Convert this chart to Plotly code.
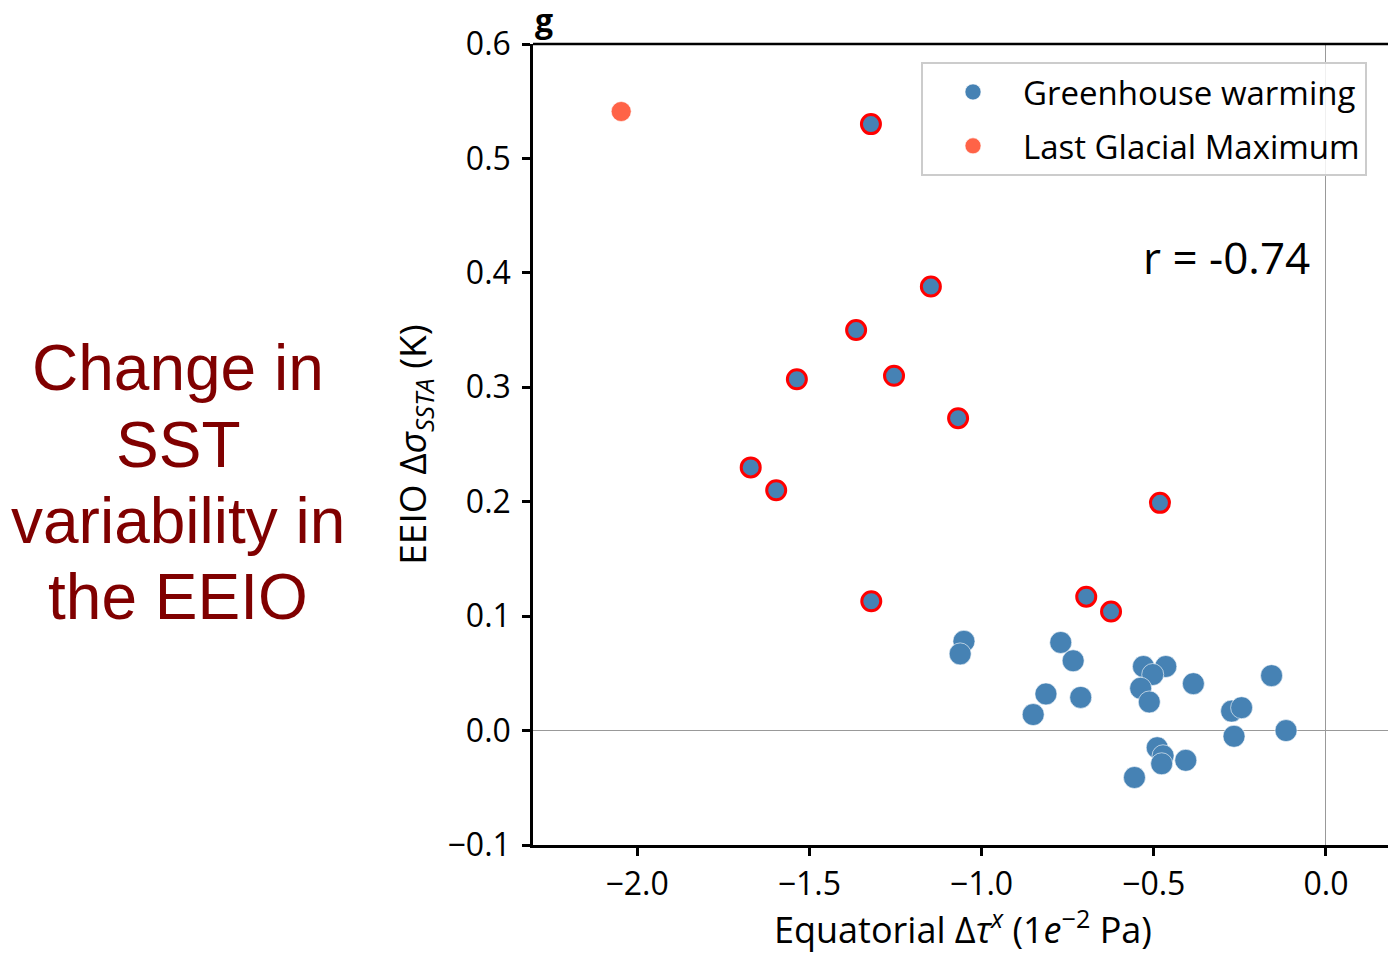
import plotly.graph_objects as go

# Greenhouse warming models (plain markers)
gw_x = [-1.051, -1.062, -0.770, -0.734, -0.813, -0.850, -0.712, -0.530, -0.465, -0.503,
        -0.538, -0.513, -0.385, -0.158, -0.274, -0.245, -0.267, -0.116, -0.490, -0.473,
        -0.477, -0.407, -0.556]
gw_y = [0.078, 0.067, 0.077, 0.061, 0.032, 0.014, 0.029, 0.056, 0.056, 0.049,
        0.037, 0.025, 0.041, 0.048, 0.017, 0.020, -0.005, 0.000, -0.015, -0.022,
        -0.029, -0.026, -0.041]

# Greenhouse warming models highlighted with red outline
gw_sig_x = [-1.321, -1.147, -1.364, -1.536, -1.254, -1.068, -1.670, -1.596, -0.482,
            -1.320, -0.696, -0.624]
gw_sig_y = [0.530, 0.388, 0.350, 0.307, 0.310, 0.273, 0.230, 0.210, 0.199,
            0.113, 0.117, 0.104]

# Last Glacial Maximum
lgm_x = [-2.046]
lgm_y = [0.541]

x_ticks = [-2.0, -1.5, -1.0, -0.5, 0.0]
y_ticks = [-0.1, 0.0, 0.1, 0.2, 0.3, 0.4, 0.5, 0.6]

BLUE = "#4682B4"
ORANGE = "#FF6347"
FONT = "Open Sans"

fig = go.Figure()
fig.add_trace(go.Scatter(
    x=gw_x, y=gw_y, mode="markers", name="Greenhouse warming", legendgroup="gw",
    marker=dict(color=BLUE, size=22, line=dict(color="white", width=0.6)),
))
fig.add_trace(go.Scatter(
    x=gw_sig_x, y=gw_sig_y, mode="markers", name="Greenhouse warming (sig)",
    showlegend=False, legendgroup="gw",
    marker=dict(color=BLUE, size=19, line=dict(color="#FF0000", width=3)),
))
fig.add_trace(go.Scatter(
    x=lgm_x, y=lgm_y, mode="markers", name="Last Glacial Maximum", legendgroup="lgm",
    marker=dict(color=ORANGE, size=20, line=dict(color="white", width=0.6)),
))

W, H = 1388, 955
L, R, T, B = 533, 0, 44, 110
pw, ph = W - L - R, H - T - B


def px2paper(px, py):
    return (px - L) / pw, (H - B - py) / ph


annots = []
for txt, cy in [("Change in", 368), ("SST", 445), ("variability in", 521), ("the EEIO", 597)]:
    xp, yp = px2paper(178, cy)
    annots.append(dict(text=txt, x=xp, y=yp, xref="paper", yref="paper",
                       xanchor="center", yanchor="middle", showarrow=False,
                       font=dict(family="Liberation Sans, Arial", size=64, color="#800000")))

xp, yp = px2paper(1226, 257)
annots.append(dict(text="r = -0.74", x=xp, y=yp, xref="paper", yref="paper",
                   xanchor="center", yanchor="middle", showarrow=False,
                   font=dict(family=FONT, size=44, color="black")))

xp, yp = px2paper(544, 20)
annots.append(dict(text="<b>g</b>", x=xp, y=yp, xref="paper", yref="paper",
                   xanchor="center", yanchor="middle", showarrow=False,
                   font=dict(family=FONT, size=32, color="black")))

# x-axis title placed as annotation for exact placement
xp, yp = px2paper(963, 955)
annots.append(dict(text="Equatorial \u0394<i>\u03c4</i><sup><i>x</i></sup> (1<i>e</i><sup>\u22122</sup> Pa)",
                   x=xp, y=yp, xref="paper", yref="paper", borderpad=0,
                   xanchor="center", yanchor="bottom", showarrow=False,
                   font=dict(family=FONT, size=36, color="black")))

fig.update_layout(
    width=W, height=H,
    margin=dict(l=L, r=R, t=T, b=B, pad=0),
    paper_bgcolor="white", plot_bgcolor="white",
    font=dict(family=FONT, size=32, color="black"),
    showlegend=True,
    legend=dict(
        x=px2paper(921, 0)[0], y=px2paper(0, 62)[1], xanchor="left", yanchor="top",
        bgcolor="rgba(255,255,255,0.85)", bordercolor="#cccccc", borderwidth=2,
        font=dict(family=FONT, size=33, color="black"),
        itemwidth=90, traceorder="grouped", tracegroupgap=8,
    ),
    annotations=annots,
    shapes=[dict(type="line", xref="paper", yref="paper", x0=0, x1=1, y0=1, y1=1,
                 line=dict(color="black", width=2.5))],
)

fig.update_xaxes(
    range=[-2.302, 0.18], tickvals=x_ticks, ticktext=[f"{v:.1f}".replace("-", "\u2212") for v in x_ticks],
    showgrid=False, zeroline=True, zerolinecolor="#999999", zerolinewidth=1,
    showline=True, linecolor="black", linewidth=2.5,
    ticks="outside", ticklen=8, tickwidth=2.5, tickcolor="black",
    ticklabelstandoff=1,
)
fig.update_yaxes(
    range=[-0.1, 0.6], tickvals=y_ticks, ticktext=[f"{v:.1f}".replace("-", "\u2212") for v in y_ticks],
    showgrid=False, zeroline=True, zerolinecolor="#999999", zerolinewidth=1,
    showline=True, linecolor="black", linewidth=2.5,
    ticks="outside", ticklen=8, tickwidth=2.5, tickcolor="black",
    ticklabelstandoff=5,
    title=dict(text="EEIO \u0394<i>\u03c3</i><sub><i>SSTA</i></sub> (K)",
               font=dict(family=FONT, size=37), standoff=10),
)

fig.write_html("out.html")
